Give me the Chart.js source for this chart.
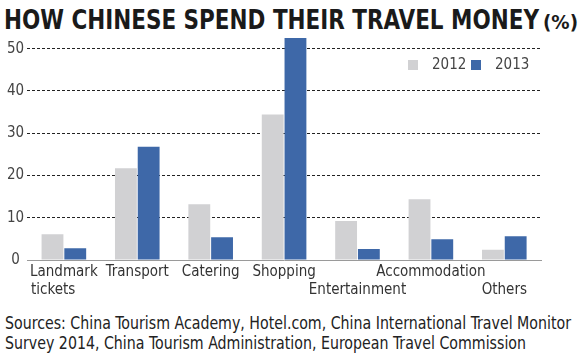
<!DOCTYPE html>
<html>
<head>
<meta charset="utf-8">
<script src="https://cdn.jsdelivr.net/npm/chart.js@4"></script>
<style>
  body { margin: 0; background: #fff; width: 579px; height: 353px; overflow: hidden; position: relative; }
  .pas { display: inline-block; white-space: nowrap; transform-origin: 0 0; }
  #judul { position: absolute; left: 4px; top: 5px; font: bold 27px "DejaVu Sans Condensed", "DejaVu Sans", sans-serif; color: #1a1a1a; line-height: 30px; }
  #persen { position: absolute; left: 543px; top: 10px; font: bold 20px "DejaVu Sans Condensed", "DejaVu Sans", sans-serif; color: #1a1a1a; line-height: 24px; }
  #wadah { position: absolute; left: 0; top: 24px; width: 579px; height: 281px; }
  .sumber { position: absolute; left: 5px; font: 18px "DejaVu Sans Condensed", "DejaVu Sans", sans-serif; line-height: 20px; color: #222; }
</style>
</head>
<body>
<div id="judul" class="pas" data-w="535">HOW CHINESE SPEND THEIR TRAVEL MONEY</div>
<div id="persen" class="pas" data-w="35">(%)</div>
<div id="wadah"><canvas id="grafik"></canvas></div>
<div class="sumber pas" style="top:313px" data-w="566">Sources: China Tourism Academy, Hotel.com, China International Travel Monitor</div>
<div class="sumber pas" style="top:333px" data-w="521">Survey 2014, China Tourism Administration, European Travel Commission</div>
<script>
// Data
const kategori = [
  ["Landmark", "tickets     "],
  "Transport",
  "Catering",
  "Shopping",
  ["", "Entertainment"],
  "Accommodation",
  ["", "Others"]
];
const tahun = ["2012", "2013"];
const data2012 = [6.1, 21.7, 13.2, 34.4, 9.2, 14.4, 2.4];
const data2013 = [2.8, 26.8, 5.4, 52.5, 2.6, 4.9, 5.6];
const tickY = [0, 10, 20, 30, 40, 50];

const warna = ["#d1d1d3", "#3e68a8"];
const hurufSempit = "'DejaVu Sans Condensed', 'DejaVu Sans', sans-serif";

// Sesuaikan lebar teks judul & sumber (huruf sempit tidak tersedia)
document.querySelectorAll(".pas").forEach((el) => {
  const target = +el.dataset.w;
  const lebar = el.getBoundingClientRect().width;
  el.style.transform = "scaleX(" + (target / lebar) + ")";
});

// Legenda kecil di dalam area chart (pojok kanan atas)
const legendaDalam = {
  id: "legendaDalam",
  afterDraw(chart) {
    const ctx = chart.ctx;
    const area = chart.chartArea;
    let x = area.right - 133;
    const y = area.top + 29;
    ctx.save();
    ctx.font = "15px " + hurufSempit;
    ctx.textBaseline = "middle";
    chart.data.datasets.forEach((ds) => {
      ctx.fillStyle = ds.backgroundColor;
      ctx.fillRect(x, y - 5, 10, 10);
      ctx.fillStyle = "#444";
      ctx.fillText(ds.label, x + 24, y);
      x += 63;
    });
    ctx.restore();
  }
};

function tampilkanChart(id) {
  const ctx = document.getElementById(id).getContext("2d");
  if (window[id] instanceof Chart) window[id].destroy();

  window[id] = new Chart(ctx, {
    type: "bar",
    data: {
      labels: kategori,
      datasets: [
        { label: tahun[0], data: data2012, backgroundColor: warna[0] },
        { label: tahun[1], data: data2013, backgroundColor: warna[1] }
      ]
    },
    options: {
      responsive: true,
      maintainAspectRatio: false,
      animation: false,
      categoryPercentage: 0.62,
      barPercentage: 0.96,
      layout: { padding: { left: 4, right: 38, top: 5, bottom: 3 } },
      plugins: {
        legend: { display: false },
        tooltip: { enabled: false }
      },
      scales: {
        x: {
          grid: { display: false, drawTicks: false },
          border: { display: true, color: "#9a9a9a", width: 1 },
          ticks: {
            color: "#333",
            padding: 3,
            maxRotation: 0,
            autoSkip: false,
            font: { family: hurufSempit, size: 15, lineHeight: 1.2 }
          }
        },
        y: {
          min: 0,
          max: 53,
          afterBuildTicks: (axis) => {
            axis.ticks = tickY.map((v) => ({ value: v }));
          },
          grid: {
            drawTicks: false,
            color: (c) => (c.tick && c.tick.value === 0 ? "rgba(0,0,0,0)" : "#222"),
            lineWidth: 1
          },
          border: { display: false, dash: [3, 2] },
          ticks: {
            color: "#444",
            padding: 3,
            crossAlign: "center",
            font: { family: hurufSempit, size: 15 }
          }
        }
      }
    },
    plugins: [legendaDalam]
  });
}

tampilkanChart("grafik");
</script>
</body>
</html>
